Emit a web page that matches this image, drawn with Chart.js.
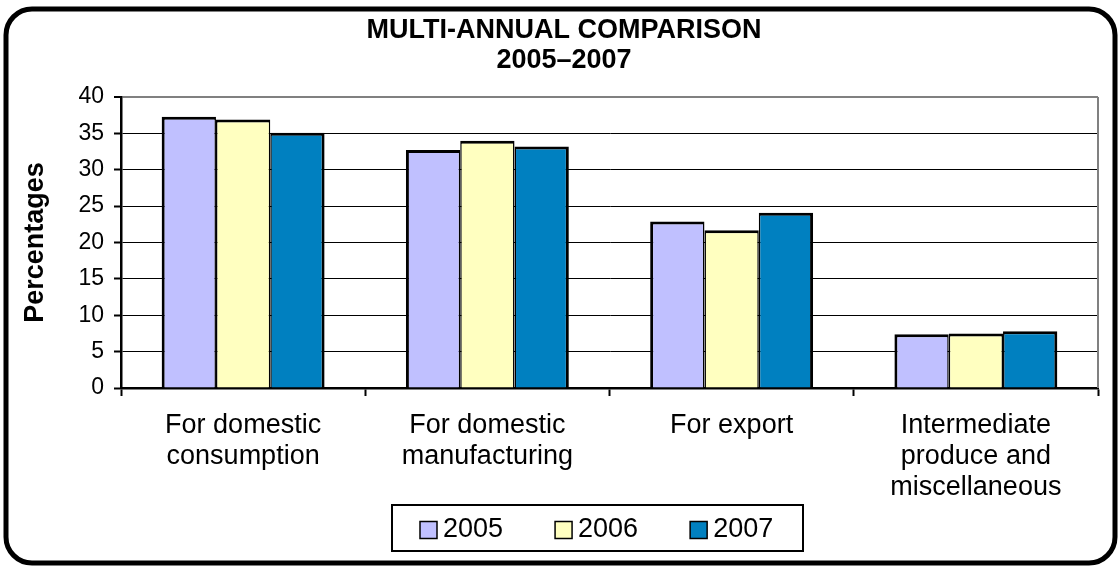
<!DOCTYPE html>
<html>
<head>
<meta charset="utf-8">
<title>Multi-annual comparison 2005–2007</title>
<script src="https://cdn.jsdelivr.net/npm/chart.js@4.4.1/dist/chart.umd.min.js"></script>
<style>
  html, body { margin: 0; padding: 0; background: #ffffff; }
  #wrap { width: 1119px; height: 567px; position: relative; }
</style>
</head>
<body>
<div id="wrap"><canvas id="chart" width="1119" height="567"></canvas></div>
<script>
// Categories (multi-line axis labels)
const categories = [
  ['For domestic', 'consumption'],
  ['For domestic', 'manufacturing'],
  'For export',
  ['Intermediate', 'produce and', 'miscellaneous']
];

// Series labels
const years = ['2005', '2006', '2007'];

// Share of output, percentages
const values2005 = [37.3, 32.7, 22.9, 7.4];
const values2006 = [36.9, 34.0, 21.7, 7.5];
const values2007 = [35.1, 33.2, 24.1, 7.8];

// Value axis
const yMin = 0;
const yMax = 40;
const yStep = 5;

const titleLines = ['MULTI-ANNUAL COMPARISON', '2005–2007'];
const yAxisTitle = 'Percentages';

const FONT = '"Liberation Sans", Arial, Helvetica, sans-serif';
const seriesColors = ['#C0C0FF', '#FFFFC0', '#0080C0'];
// adjacent bars share a single outline
const seriesBorders = [
  { top: 3, left: 3, right: 1.5, bottom: 0 },
  { top: 3, left: 1.5, right: 1.5, bottom: 0 },
  { top: 3, left: 1.5, right: 3, bottom: 0 }
];

// Rounded outer frame, plot-area edge and framed legend
const framePlugin = {
  id: 'frame',
  beforeDatasetsDraw(chart) {
    const { ctx, chartArea } = chart;
    ctx.save();
    ctx.strokeStyle = '#808080';
    ctx.lineWidth = 2;
    ctx.beginPath();
    ctx.moveTo(chartArea.right, chartArea.top);
    ctx.lineTo(chartArea.right, chartArea.bottom);
    ctx.stroke();
    ctx.restore();
  },
  afterDraw(chart) {
    const { ctx } = chart;
    ctx.save();

    // outer rounded border
    ctx.strokeStyle = '#000';
    ctx.lineWidth = 5;
    ctx.beginPath();
    ctx.roundRect(6, 9, 1109, 554, 26);
    ctx.stroke();

    // legend
    const font = '27px ' + FONT;
    ctx.font = font;
    const sw = 17, gap = 6, itemGap = 52, padL = 28, padR = 30;
    const items = chart.data.datasets.map(ds => ({
      text: ds.label,
      color: ds.backgroundColor,
      w: ctx.measureText(ds.label).width
    }));
    const inner = items.reduce((s, it) => s + sw + gap + it.w, 0) + itemGap * (items.length - 1);
    const boxW = padL + inner + padR;
    const cx = 598;
    const boxTop = 505, boxH = 46;
    const boxLeft = Math.round(cx - boxW / 2);
    ctx.lineWidth = 2;
    ctx.strokeStyle = '#000';
    ctx.fillStyle = '#fff';
    ctx.beginPath();
    ctx.rect(boxLeft, boxTop, Math.round(boxW), boxH);
    ctx.fill();
    ctx.stroke();

    let x = boxLeft + padL;
    const midY = boxTop + boxH / 2 + 2;
    items.forEach(it => {
      ctx.fillStyle = it.color;
      ctx.fillRect(x, midY - sw / 2, sw, sw);
      ctx.lineWidth = 1.5;
      ctx.strokeStyle = '#000';
      ctx.strokeRect(x, midY - sw / 2, sw, sw);
      ctx.fillStyle = '#000';
      ctx.textBaseline = 'middle';
      ctx.textAlign = 'left';
      ctx.fillText(it.text, x + sw + gap, midY);
      x += sw + gap + it.w + itemGap;
    });
    ctx.restore();
  }
};

const seriesValues = [values2005, values2006, values2007];

new Chart(document.getElementById('chart'), {
  type: 'bar',
  data: {
    labels: categories,
    datasets: years.map((y, i) => ({
      label: y,
      data: seriesValues[i],
      backgroundColor: seriesColors[i],
      borderColor: '#000',
      borderWidth: seriesBorders[i],
      borderSkipped: false,
      categoryPercentage: 0.667,
      barPercentage: 1.0
    }))
  },
  options: {
    responsive: false,
    devicePixelRatio: 1,
    animation: false,
    events: [],
    color: '#000',
    font: { family: FONT },
    layout: { padding: { left: 30, right: 21, top: 0, bottom: 64 } },
    plugins: {
      legend: { display: false },
      tooltip: { enabled: false },
      title: {
        display: true,
        text: titleLines,
        color: '#000',
        font: { family: FONT, size: 27, weight: 'bold', lineHeight: '30px' },
        padding: { top: 16, bottom: 21 }
      }
    },
    scales: {
      x: {
        offset: true,
        border: { display: true, color: '#000', width: 2.5 },
        grid: {
          display: true,
          offset: true,
          drawOnChartArea: false,
          drawTicks: true,
          tickLength: 8,
          tickColor: '#000',
          tickWidth: 2
        },
        ticks: {
          color: '#000',
          padding: 14,
          maxRotation: 0,
          autoSkip: false,
          font: { family: FONT, size: 27, lineHeight: '31px' }
        },
        afterFit(scale) { scale.height = 115; }
      },
      y: {
        min: yMin,
        max: yMax,
        border: { display: true, color: '#000', width: 2.5 },
        grid: {
          color: ctx => (ctx.tick && ctx.tick.value === yMax ? '#808080' : '#000'),
          lineWidth: ctx => (ctx.tick && ctx.tick.value === yMax ? 2 : 1),
          drawTicks: true,
          tickLength: 7,
          tickColor: '#000',
          tickWidth: 2
        },
        ticks: {
          stepSize: yStep,
          color: '#000',
          padding: 10,
          font: { family: FONT, size: 23 }
        },
        title: {
          display: true,
          text: yAxisTitle,
          color: '#000',
          padding: 0,
          font: { family: FONT, size: 27, weight: 'bold', lineHeight: '11px' }
        },
        afterFit(scale) { scale.width = 91; }
      }
    }
  },
  plugins: [framePlugin]
});
</script>
</body>
</html>
